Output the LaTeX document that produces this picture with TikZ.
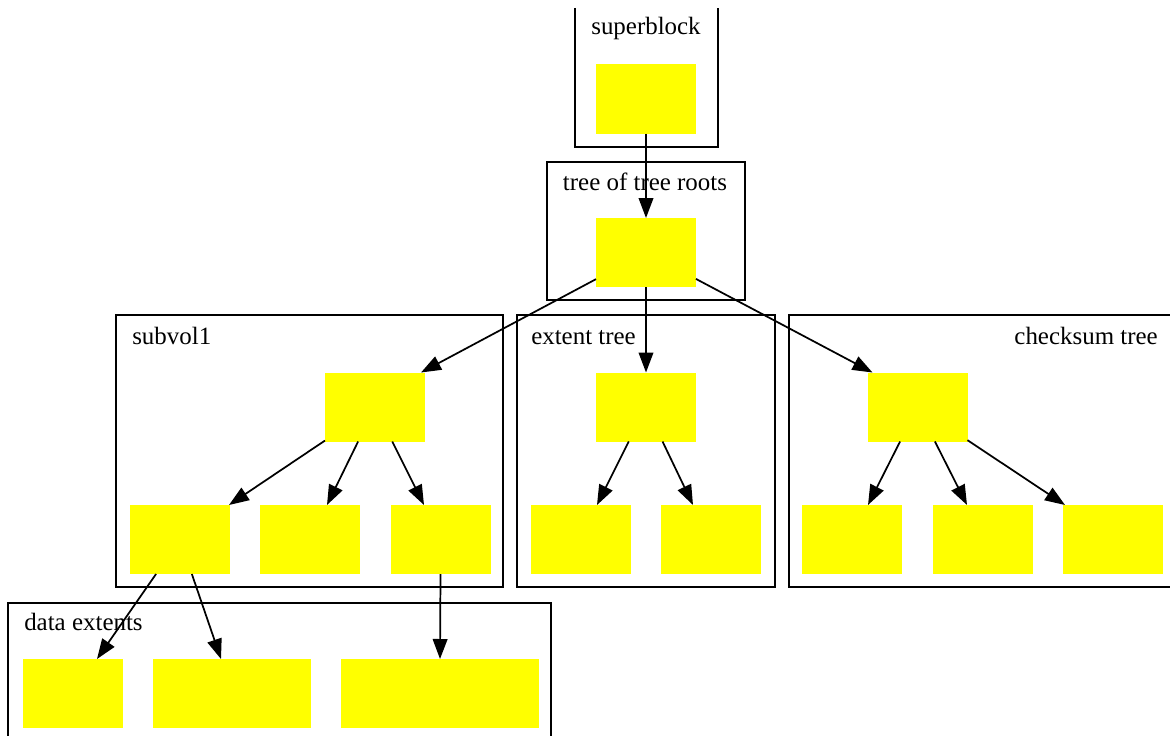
\documentclass[tikz,border=0pt]{standalone}
\usepackage{fontspec}
\setmainfont{Liberation Serif}
\usetikzlibrary{arrows.meta,calc}
\definecolor{blkyellow}{RGB}{255,255,0}
\begin{document}
\begin{tikzpicture}[x=0.75pt,y=-0.75pt,
  blk/.style={fill=blkyellow,draw=none,inner sep=0pt,outer sep=0pt,minimum width=75pt,minimum height=51.75pt},
  clus/.style={draw=black,line width=1.9pt},
  lbl/.style={font=\fontsize{18.7}{22}\selectfont,inner sep=0pt},
  arr/.style={draw=black,line width=1.3pt,-{Triangle[length=15pt,width=11pt]}}]
\useasboundingbox[fill=white] (0,0) rectangle (1170,735);

% clusters
\draw[clus] (575,8) -- (575,147) -- (718,147) -- (718,8);
\draw[clus] (547,162) rectangle (745,300);
\draw[clus] (116,315) rectangle (503,587);
\draw[clus] (517,315) rectangle (775,587);
\draw[clus] (1172,315) -- (789,315) -- (789,587) -- (1172,587);
\draw[clus] (8,737) -- (8,603) -- (551,603) -- (551,737);

% labels
\node[lbl,anchor=base] (lsb) at (646,35) {superblock};
\node[lbl,anchor=base] (ltot) at (645,190) {tree of tree roots};
\node[lbl,anchor=base west] (lsv) at (132,344) {subvol1};
\node[lbl,anchor=base west] (lex) at (531,344) {extent tree};
\node[lbl,anchor=base east] (lcs) at (1158,344) {checksum tree};
\node[lbl,anchor=base west] (ldx) at (24,630) {data extents};

% blocks
\node[blk] (sb) at (646,99) {};
\node[blk] (tot) at (646,252.5) {};
\node[blk] (s1r) at (375,407) {};
\node[blk] (s1a) at (180,539.5) {};
\node[blk] (s1b) at (310,539.5) {};
\node[blk] (s1c) at (440.5,539.5) {};
\node[blk] (exr) at (646,407) {};
\node[blk] (exa) at (581,539.5) {};
\node[blk] (exb) at (711,539.5) {};
\node[blk] (csr) at (917.5,407) {};
\node[blk] (csa) at (852,539.5) {};
\node[blk] (csb) at (982.5,539.5) {};
\node[blk] (csc) at (1112.5,539.5) {};
\node[blk] (d1) at (73,693.5) {};
\node[blk,minimum width=118.5pt] (d2) at (232,693.5) {};
\node[blk,minimum width=148.5pt] (d3) at (440,693.5) {};

% edges
\draw[arr] (sb.south) -- (tot.north);
\draw[arr] (tot) -- ($(s1r.north east)+(-4,0)$);
\draw[arr] (tot.south) -- (exr.north);
\draw[arr] (tot) -- ($(csr.north west)+(5,0)$);
\draw[arr] (s1r) -- ($(s1a.north east)+(-1,0)$);
\draw[arr] (s1r) -- ($(s1b.north)+(17,0)$);
\draw[arr] (s1r) -- ($(s1c.north)+(-16.5,0)$);
\draw[arr] (exr) -- ($(exa.north)+(16,0)$);
\draw[arr] (exr) -- ($(exb.north)+(-18,0)$);
\draw[arr] (csr) -- ($(csa.north)+(16,0)$);
\draw[arr] (csr) -- ($(csb.north)+(-15.5,0)$);
\draw[arr] (csr) -- ($(csc.north)+(-47.5,0)$);
\draw[arr] (s1a) -- ($(d1.north)+(24,0)$);
\draw[arr] (s1a) -- ($(d2.north)+(-11,0)$);
\draw[arr] (s1c.south) -- (d3.north);
\end{tikzpicture}
\end{document}
